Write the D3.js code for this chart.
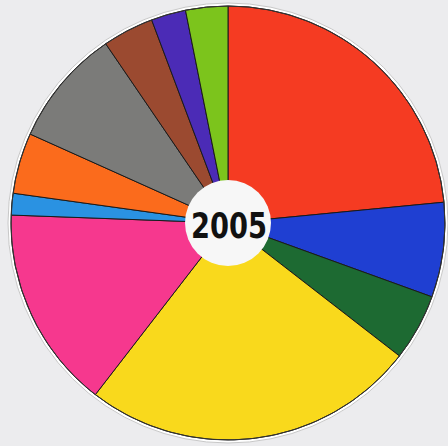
<!DOCTYPE html>
<html><head><meta charset="utf-8">
<script src="https://cdn.jsdelivr.net/npm/d3@7"></script>
<style>html,body{margin:0;padding:0;background:#ececee;}</style>
</head><body>
<svg id="chart" width="448" height="446"></svg>
<script>
// Slice sizes in degrees, clockwise from 12 o'clock
const categories = ["Red","Blue","Dark green","Yellow","Pink","Light blue","Orange","Grey","Brown","Purple","Green"];
const values = [84.5, 25.4, 17.9, 89.9, 54.4, 5.8, 16.3, 31.5, 13.7, 9.3, 11.3];
const colors = ["#f53b22","#1f3fd2","#1d6a32","#f9d91c","#f6388e","#2a92e2","#fb6b1c","#7b7b79","#9b4a30","#4b2bb6","#7cc41c"];
const centerLabel = "2005";

const svg = d3.select("#chart");
const cx = 228, cy = 223, R = 217, r0 = 43;

const g = svg.append("g").attr("transform", `translate(${cx},${cy})`);

// paper disc behind the pie
g.append("circle").attr("r", R + 3).attr("fill", "#ffffff").attr("stroke", "#c8c8c8").attr("stroke-width", 1);

const pie = d3.pie().value(d => d).sort(null);
const arc = d3.arc().innerRadius(0).outerRadius(R);
const color = d3.scaleOrdinal().domain(d3.range(values.length)).range(colors);

g.selectAll("path.slice")
  .data(pie(values))
  .join("path")
  .attr("class", "slice")
  .attr("d", arc)
  .attr("fill", (d, i) => color(i))
  .attr("stroke", "#1a1a1a")
  .attr("stroke-width", 1)
  .attr("stroke-linejoin", "round");

g.append("circle").attr("r", R).attr("fill", "none").attr("stroke", "#333").attr("stroke-width", 1);

g.append("circle").attr("r", r0).attr("fill", "#f7f7f7");

g.append("text")
  .attr("x", 1).attr("y", 15)
  .attr("text-anchor", "middle")
  .attr("font-family", "DejaVu Sans, sans-serif")
  .attr("font-size", 36)
  .attr("font-weight", "bold")
  .attr("textLength", 76)
  .attr("lengthAdjust", "spacingAndGlyphs")
  .attr("fill", "#111")
  .text(centerLabel);
</script>
</body></html>
